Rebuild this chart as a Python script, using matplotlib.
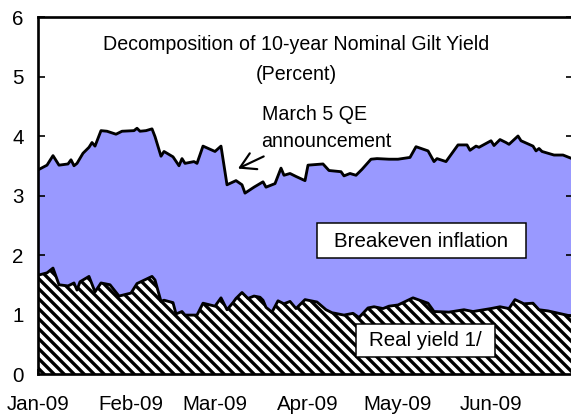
import matplotlib
matplotlib.use("Agg")
from matplotlib import pyplot as plt, patches
import matplotlib.dates as mdates
import pandas as pd

# nominal 10-year gilt yield (top of the blue area)
nominal_dates = ["2009-01-01", "2009-01-04", "2009-01-06", "2009-01-08", "2009-01-11", "2009-01-12",
                 "2009-01-13", "2009-01-14", "2009-01-16", "2009-01-18", "2009-01-19", "2009-01-20",
                 "2009-01-22", "2009-01-24", "2009-01-27", "2009-01-29", "2009-02-02", "2009-02-03",
                 "2009-02-04", "2009-02-06", "2009-02-08", "2009-02-09", "2009-02-11", "2009-02-12",
                 "2009-02-15", "2009-02-17", "2009-02-18", "2009-02-19", "2009-02-22", "2009-02-23",
                 "2009-02-25", "2009-03-01", "2009-03-03", "2009-03-05", "2009-03-08", "2009-03-10",
                 "2009-03-11", "2009-03-14", "2009-03-17", "2009-03-18", "2009-03-21", "2009-03-23",
                 "2009-03-24", "2009-03-26", "2009-03-28", "2009-03-31", "2009-04-01", "2009-04-06",
                 "2009-04-08", "2009-04-12", "2009-04-13", "2009-04-15", "2009-04-17", "2009-04-19",
                 "2009-04-22", "2009-04-24", "2009-04-28", "2009-05-01", "2009-05-05", "2009-05-07",
                 "2009-05-11", "2009-05-13", "2009-05-14", "2009-05-17", "2009-05-21", "2009-05-24",
                 "2009-05-25", "2009-05-27", "2009-05-28", "2009-06-01", "2009-06-02", "2009-06-04",
                 "2009-06-06", "2009-06-07", "2009-06-10", "2009-06-11", "2009-06-15", "2009-06-16",
                 "2009-06-17", "2009-06-18", "2009-06-22", "2009-06-25", "2009-06-28"]
nominal = [3.43, 3.51, 3.67, 3.51, 3.53, 3.60,
           3.50, 3.54, 3.71, 3.81, 3.89, 3.83,
           4.09, 4.08, 4.03, 4.08, 4.09, 4.13,
           4.08, 4.09, 4.12, 3.99, 3.66, 3.74,
           3.65, 3.50, 3.62, 3.54, 3.57, 3.54,
           3.83, 3.74, 3.83, 3.18, 3.25, 3.18,
           3.04, 3.14, 3.23, 3.14, 3.20, 3.46,
           3.34, 3.37, 3.32, 3.25, 3.51, 3.53,
           3.42, 3.40, 3.33, 3.37, 3.34, 3.44,
           3.61, 3.62, 3.61, 3.61, 3.64, 3.82,
           3.75, 3.57, 3.62, 3.57, 3.85, 3.85,
           3.76, 3.83, 3.81, 3.92, 3.84, 3.94,
           3.89, 3.86, 4.00, 3.92, 3.83, 3.75,
           3.79, 3.74, 3.68, 3.68, 3.62]

# real yield (hatched area)
real_dates = ["2009-01-01", "2009-01-04", "2009-01-06", "2009-01-08", "2009-01-11", "2009-01-13",
              "2009-01-14", "2009-01-15", "2009-01-18", "2009-01-20", "2009-01-22", "2009-01-25",
              "2009-01-28", "2009-02-01", "2009-02-03", "2009-02-08", "2009-02-09", "2009-02-11",
              "2009-02-12", "2009-02-15", "2009-02-16", "2009-02-18", "2009-02-19", "2009-02-23",
              "2009-02-25", "2009-03-01", "2009-03-03", "2009-03-05", "2009-03-07", "2009-03-08",
              "2009-03-10", "2009-03-12", "2009-03-14", "2009-03-16", "2009-03-17", "2009-03-18",
              "2009-03-20", "2009-03-22", "2009-03-24", "2009-03-26", "2009-03-28", "2009-03-31",
              "2009-04-02", "2009-04-04", "2009-04-07", "2009-04-09", "2009-04-13", "2009-04-16",
              "2009-04-18", "2009-04-21", "2009-04-23", "2009-04-26", "2009-04-28", "2009-05-01",
              "2009-05-06", "2009-05-11", "2009-05-13", "2009-05-18", "2009-05-23", "2009-05-26",
              "2009-06-01", "2009-06-04", "2009-06-07", "2009-06-09", "2009-06-12", "2009-06-15",
              "2009-06-17", "2009-06-20", "2009-06-28"]
real = [1.66, 1.70, 1.78, 1.50, 1.48, 1.53,
        1.41, 1.55, 1.64, 1.38, 1.53, 1.50,
        1.31, 1.36, 1.52, 1.64, 1.58, 1.22,
        1.24, 1.20, 1.01, 1.05, 0.99, 0.99,
        1.19, 1.14, 1.28, 1.08, 1.20, 1.27,
        1.37, 1.27, 1.31, 1.29, 1.24, 1.12,
        1.04, 1.23, 1.18, 1.22, 1.10, 1.25,
        1.23, 1.21, 1.08, 1.03, 0.99, 1.02,
        0.95, 1.11, 1.13, 1.10, 1.14, 1.16,
        1.28, 1.19, 1.05, 1.04, 1.08, 1.05,
        1.10, 1.13, 1.10, 1.25, 1.18, 1.19,
        1.08, 1.06, 0.97]

month_ticks = ["2009-01-01", "2009-02-01", "2009-03-01", "2009-04-01", "2009-05-01", "2009-06-01"]

W, H, DPI = 571, 416, 120
FS = 12.3  # ~20.5 px
FS_TITLE = 11.8

plt.rcParams['font.family'] = ['Liberation Sans', 'DejaVu Sans']
plt.rcParams['hatch.linewidth'] = 2.0

fig = plt.figure(figsize=(W / DPI, H / DPI), dpi=DPI)


def fx(x):
    return x / W


def fy(y):
    return 1 - y / H


# axes from x=38 to 573 px, y=17 to 374 px
ax = fig.add_axes([fx(38), fy(374), (573 - 38) / W, (374 - 17) / H])

nd = pd.to_datetime(nominal_dates)
rd = pd.to_datetime(real_dates)

ax.fill_between(nd, nominal, 0, facecolor='#9999ff', linewidth=0, zorder=1)
ax.plot(nd, nominal, color='black', lw=1.7, zorder=3)
ax.fill_between(rd, real, 0, facecolor='white', edgecolor='black', hatch='\\\\\\\\', linewidth=0, zorder=2)
ax.plot(rd, real, color='black', lw=1.7, zorder=3)

start = pd.Timestamp("2009-01-01")
ax.set_xlim(start, start + pd.Timedelta(days=178.33))
ax.set_ylim(0, 6)
ax.set_yticks(range(0, 7))
ax.set_xticks(pd.to_datetime(month_ticks))
ax.xaxis.set_major_formatter(mdates.DateFormatter('%b-%y'))

for s in ax.spines.values():
    s.set_linewidth(1.6)
ax.tick_params(axis='y', direction='in', length=4.2, width=1.0, labelsize=FS, pad=8.5,
               left=True, right=True, labelright=False)
ax.tick_params(axis='x', direction='in', length=3.0, width=1.0, labelsize=FS, pad=12.5)

# annotations
fig.text(fx(296), fy(50), "Decomposition of 10-year Nominal Gilt Yield", ha='center', va='baseline', fontsize=FS_TITLE)
fig.text(fx(296), fy(80), "(Percent)", ha='center', va='baseline', fontsize=FS_TITLE)
fig.text(fx(261.5), fy(120), "March 5 QE", ha='left', va='baseline', fontsize=FS_TITLE)
fig.text(fx(261.5), fy(146.7), "announcement", ha='left', va='baseline', fontsize=FS_TITLE)
fig.add_artist(patches.FancyArrowPatch((fx(266.7), fy(155)), (fx(235), fy(170)),
                                       transform=fig.transFigure, arrowstyle='->,head_length=6,head_width=3.5',
                                       color='black', lw=1.3, mutation_scale=1.5))

fig.add_artist(patches.Rectangle((fx(317), fy(258.3)), (526 - 317) / W, (258.3 - 223.3) / H,
                                 transform=fig.transFigure, facecolor='white', edgecolor='black', lw=0.9, zorder=5))
fig.text(fx(421.5), fy(241), "Breakeven inflation", ha='center', va='center', fontsize=FS, zorder=6)

fig.add_artist(patches.Rectangle((fx(356), fy(357.3)), (495 - 356) / W, (357.3 - 324) / H,
                                 transform=fig.transFigure, facecolor='white', edgecolor='black', lw=0.9, zorder=5))
fig.text(fx(425.5), fy(340.5), "Real yield 1/", ha='center', va='center', fontsize=FS, zorder=6)

fig.savefig('out.png', dpi=DPI)
